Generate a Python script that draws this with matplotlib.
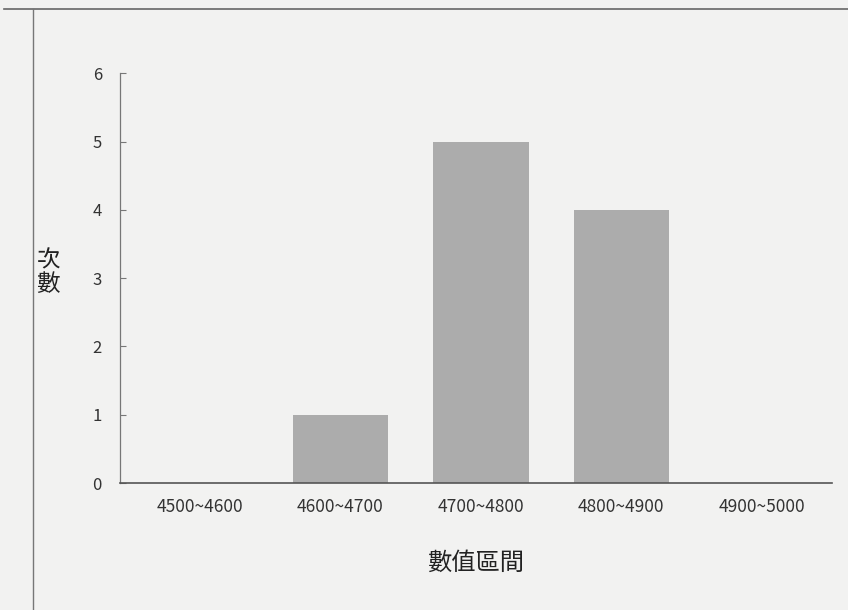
import matplotlib
matplotlib.use("Agg")
import matplotlib.pyplot as plt
from matplotlib.lines import Line2D

# 數值區間與次數
categories = ["4500~4600", "4600~4700", "4700~4800", "4800~4900", "4900~5000"]
counts = [0, 1, 5, 4, 0]
y_ticks = [0, 1, 2, 3, 4, 5, 6]

plt.rcParams['font.family'] = ['Noto Sans CJK TC', 'DejaVu Sans']

bg = '#f2f2f1'
fig = plt.figure(figsize=(8.48, 6.10), dpi=100, facecolor=bg)
ax = fig.add_axes([0.1415, 0.208, 0.8396, 0.672], facecolor=bg)

x = list(range(len(categories)))
ax.bar(x, counts, width=0.68, color='#acacac', edgecolor='none', zorder=2)

ax.set_xlim(-0.57, 4.5)
ax.set_ylim(0, 6)
ax.set_yticks(y_ticks)
ax.set_xticks(x)
ax.set_xticklabels(categories, fontsize=12.5, color='#333333')
ax.tick_params(axis='x', length=0, pad=11)
ax.tick_params(axis='y', direction='in', length=4, width=0.8, colors='#777777',
               labelsize=12, labelcolor='#333333', pad=13)

for side in ['top', 'right']:
    ax.spines[side].set_visible(False)
ax.spines['left'].set_color('#777777')
ax.spines['left'].set_linewidth(0.9)
ax.spines['bottom'].set_color('#555555')
ax.spines['bottom'].set_linewidth(1.2)

ax.set_xlabel("數值區間", fontsize=17.5, color='#222222', labelpad=24)
fig.text(0.057, 0.553, "次\n數", fontsize=17, color='#222222',
         ha='center', va='center', linespacing=1.0)

# 外框
fig.add_artist(Line2D([0.005, 1.0], [0.986, 0.986], transform=fig.transFigure,
                      color='#666666', linewidth=1.2))
fig.add_artist(Line2D([0.039, 0.039], [0.0, 0.986], transform=fig.transFigure,
                      color='#777777', linewidth=1.0))

fig.savefig("out.png", dpi=100, facecolor=bg)
